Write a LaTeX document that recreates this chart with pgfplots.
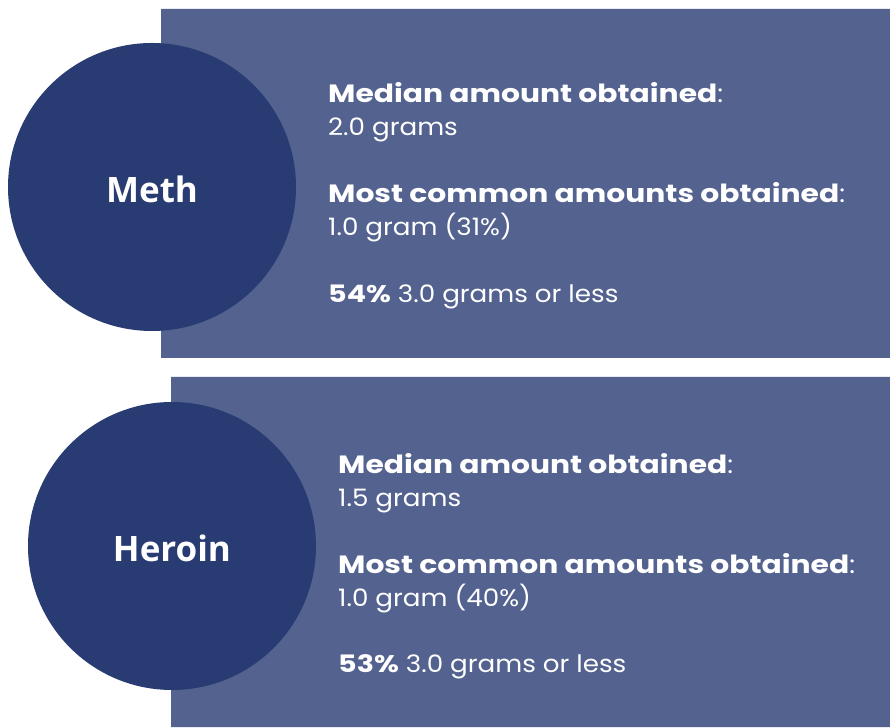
\documentclass[border=0pt]{standalone}
\usepackage{pgfplots}
\pgfplotsset{compat=1.18}
\usepackage{fontspec}
\setmainfont{Poppins}[FakeStretch=1.09, BoldFeatures={FakeStretch=1.19}]
\newfontfamily\labelfont{Open Sans}
\definecolor{panel}{RGB}{83,98,143}
\definecolor{circ}{RGB}{40,60,115}
\begin{document}
\begin{tikzpicture}
\begin{axis}[
  x=1pt, y=1pt, xmin=0, xmax=890, ymin=0, ymax=727,
  hide axis, clip=false, scale only axis,
]
% white background
\addplot[fill=white, draw=none] coordinates {(0,0) (890,0) (890,727) (0,727) (0,0)};
% panels
\addplot[fill=panel, draw=none] coordinates {(161,369) (890,369) (890,718) (161,718) (161,369)};
\addplot[fill=panel, draw=none] coordinates {(171,0) (890,0) (890,350) (171,350) (171,0)};
% circles
\fill[circ] (axis cs:152,540) circle[radius=144];
\fill[circ] (axis cs:172,181) circle[radius=144];
\node[white, font=\labelfont\bfseries\fontsize{35}{40}\selectfont] at (axis cs:152,538) {Meth};
\node[white, font=\labelfont\bfseries\fontsize{35}{40}\selectfont] at (axis cs:172,179) {Heroin};
% text panel 1
\begin{scope}[every node/.style={white, anchor=base west, inner sep=0pt}]
\node[font=\fontsize{25}{30}\selectfont] at (axis cs:328,624) {\textbf{Median amount obtained}:};
\node[font=\fontsize{24}{30}\selectfont] at (axis cs:328,591) {2.0 grams};
\node[font=\fontsize{25}{30}\selectfont] at (axis cs:328,524) {\textbf{Most common amounts obtained}:};
\node[font=\fontsize{24}{30}\selectfont] at (axis cs:328,491) {1.0 gram (31\%)};
\node[font=\fontsize{24}{30}\selectfont] at (axis cs:328,424) {\textbf{54\%} 3.0 grams or less};
% text panel 2
\node[font=\fontsize{25}{30}\selectfont] at (axis cs:338,253) {\textbf{Median amount obtained}:};
\node[font=\fontsize{24}{30}\selectfont] at (axis cs:338,220) {1.5 grams};
\node[font=\fontsize{25}{30}\selectfont] at (axis cs:338,153) {\textbf{Most common amounts obtained}:};
\node[font=\fontsize{24}{30}\selectfont] at (axis cs:338,120) {1.0 gram (40\%)};
\node[font=\fontsize{24}{30}\selectfont] at (axis cs:338,54) {\textbf{53\%} 3.0 grams or less};
\end{scope}
\end{axis}
\end{tikzpicture}
\end{document}
